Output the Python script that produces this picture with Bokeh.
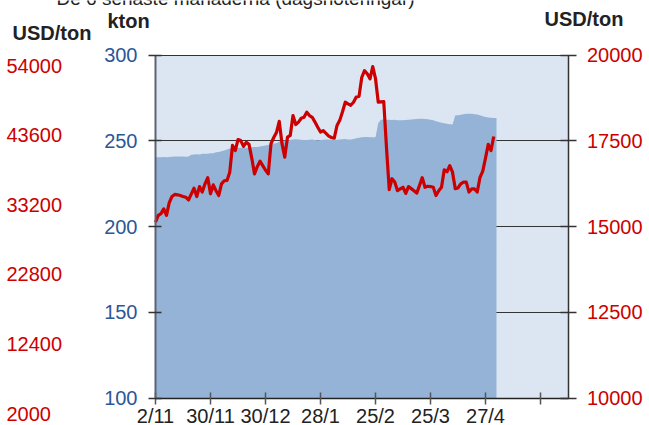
from bokeh.plotting import figure
from bokeh.models import Range1d, LinearAxis, FixedTicker, BoxAnnotation, Label
from bokeh.embed import file_html
from bokeh.resources import INLINE

# ---------------- data ----------------
title_text = "De 6 senaste månaderna (dagsnoteringar)"
x_tick_labels = ["2/11", "30/11", "30/12", "28/1", "25/2", "25/3", "27/4", ""]
days_per_tick = 20
kton_ticks = [100, 150, 200, 250, 300]
usd_ticks = [10000, 12500, 15000, 17500, 20000]
outer_ticks = [54000, 43600, 33200, 22800, 12400, 2000]

stock_kton = [
    240.5, 240.5, 240.5, 240.6, 240.5, 240.7,
    240.8, 241.0, 241.0, 241.0, 240.9, 240.8, 241.0,
    242.0, 242.1, 242.2, 242.1,
    242.5, 242.6, 242.6, 242.8, 242.9,
    243.4, 243.5, 244.0, 244.5, 245.0,
    245.6, 246.0, 246.0, 246.0, 246.1, 246.1, 246.0, 246.2, 246.3, 246.4, 246.5, 246.8, 247.0, 247.3, 247.6,
    248.3, 248.5, 248.6,
    249.7, 249.9, 250.2, 250.4, 250.6, 250.9, 251.0,
    250.8, 250.7, 250.6, 250.6, 250.7, 250.8, 250.5, 250.4, 250.5, 250.7, 250.8, 250.9, 250.8, 250.6,
    250.7, 250.9, 251.0, 251.1, 250.9, 250.8, 251.2, 251.6, 251.9,
    252.2, 252.3, 252.3, 252.2, 252.1, 252.2,
    260.5,
    262.3, 262.5, 262.4, 262.3, 262.2, 262.3, 262.1,
    262.0, 262.0, 262.2, 262.3, 262.5, 262.6, 262.8, 262.9,
    263.0, 262.8, 262.6, 262.4, 262.1,
    261.5, 261.0, 260.6, 260.3, 260.0, 259.8, 259.6,
    264.8,
    265.0, 265.3, 265.6, 265.8, 265.9, 265.8, 265.6, 265.4, 265.0,
    264.4, 264.0, 263.7, 263.5, 263.4, 263.4,
]

price_usd = [
    15130, 15330, 15380, 15520, 15330, 15700, 15880, 15940, 15930, 15910,
    15880, 15860, 15780, 15950, 16120, 15880, 16170, 16010, 16250, 16430,
    15960, 16220, 16050, 15910, 16250, 16340, 16350, 16590, 17370, 17220,
    17540, 17510, 17340, 17460, 17400, 17000, 16540, 16750, 16910, 16780,
    16650, 16540, 17420, 17600, 17750, 18070, 17420, 17030, 17610, 17660,
    18240, 17980, 18050, 18160, 18190, 18340, 18240, 18190, 18050, 17900,
    17760, 17800, 17720, 17640, 17600, 17580, 17950, 18100, 18350, 18630,
    18580, 18540, 18630, 18780, 18800, 19350, 19550, 19460, 19310, 19670,
    19320, 18630, 18640, 18650, 17300, 16080, 16400, 16300, 16050, 16100,
    16150, 15970, 16170, 16110, 16050, 15980, 16200, 16430, 16150, 16180,
    16170, 16150, 15910, 16050, 16150, 16660, 16600, 16780, 16590, 16110,
    16130, 16250, 16300, 16300, 16010, 16100, 16100, 16010, 16440, 16620,
    17000, 17400, 17220, 17630,
]

# ---------------- layout (frame = whole canvas, axes pinned) ----------------
W, H = 649, 425
X_SLOTS = 150
X0_PX, XEND_PX = 155.0, 567.5        # pixel columns of slot 0 and slot 150
Y300_PX, Y100_PX = 54.7, 397.7       # pixel rows of 300 and 100 kton
OUT_TOP_PX, OUT_BOT_PX = 65.0, 413.0  # pixel rows of first/last outer label

idx_per_px = X_SLOTS / (XEND_PX - X0_PX)
x_lo = -X0_PX * idx_per_px
x_hi = X_SLOTS + (W - XEND_PX) * idx_per_px

k_per_px = (kton_ticks[-1] - kton_ticks[0]) / (Y100_PX - Y300_PX)
k_hi = kton_ticks[-1] + Y300_PX * k_per_px
k_lo = kton_ticks[0] - (H - Y100_PX) * k_per_px

usd_per_k = (usd_ticks[-1] - usd_ticks[0]) / (kton_ticks[-1] - kton_ticks[0])
u_lo = usd_ticks[0] + (k_lo - kton_ticks[0]) * usd_per_k
u_hi = usd_ticks[-1] + (k_hi - kton_ticks[-1]) * usd_per_k

o_per_px = (outer_ticks[0] - outer_ticks[-1]) / (OUT_BOT_PX - OUT_TOP_PX)
o_hi = outer_ticks[0] + OUT_TOP_PX * o_per_px
o_lo = outer_ticks[-1] - (H - OUT_BOT_PX) * o_per_px


def px_x(px):
    return x_lo + px * idx_per_px


def px_k(py):
    return k_hi - py * k_per_px


FONT = "Liberation Sans"
RED = "#CC0000"
BLUE = "#2B5797"
DARK = "#333333"

p = figure(width=W, height=H, x_range=Range1d(x_lo, x_hi), y_range=Range1d(k_lo, k_hi),
           output_backend="svg", toolbar_location=None,
           min_border=0, min_border_left=0, min_border_right=0,
           min_border_top=0, min_border_bottom=0,
           outline_line_color=None, background_fill_color="white", border_fill_color="white")
p.extra_y_ranges = {"usd": Range1d(u_lo, u_hi), "outer": Range1d(o_lo, o_hi)}

# light plot-area background
p.add_layout(BoxAnnotation(left=0, right=X_SLOTS, bottom=kton_ticks[0], top=kton_ticks[-1],
                           fill_color="#DCE6F2", fill_alpha=1.0, line_color=None, level="image"))

# grid (horizontal lines across the plot area only)
p.xgrid.visible = False
yg = p.ygrid[0]
yg.ticker = FixedTicker(ticks=kton_ticks[1:])
yg.grid_line_color = DARK
yg.grid_line_width = 1.2
yg.cross_bounds = (0, X_SLOTS)

# stock area + price line
idx_area = list(range(len(stock_kton)))
idx_line = list(range(len(price_usd)))
p.varea(x=idx_area, y1=kton_ticks[0], y2=stock_kton, fill_color="#95B3D7", fill_alpha=1.0)
p.line(x=idx_line, y=price_usd, y_range_name="usd", line_color=RED, line_width=3.2,
       line_join="round")

# x axis
xa = p.xaxis[0]
tick_pos = [i * days_per_tick for i in range(len(x_tick_labels))]
xa.ticker = FixedTicker(ticks=tick_pos)
xa.major_label_overrides = {t: lab for t, lab in zip(tick_pos, x_tick_labels)}
xa.fixed_location = kton_ticks[0]
xa.bounds = (0, X_SLOTS)
xa.axis_line_color = "#222222"
xa.axis_line_width = 1.5
xa.major_tick_line_color = "#555555"
xa.major_tick_line_width = 1.5
xa.major_tick_in = 6
xa.major_tick_out = 6
xa.minor_tick_line_color = None
xa.major_label_standoff = 1
xa.major_label_text_font = FONT
xa.major_label_text_font_size = "20px"
xa.major_label_text_color = "#222222"

# inner left axis (kton)
ya = p.yaxis[0]
ya.ticker = FixedTicker(ticks=kton_ticks)
ya.fixed_location = 0
ya.bounds = (kton_ticks[0], kton_ticks[-1])
ya.axis_line_color = "#5A6475"
ya.axis_line_width = 2
ya.major_tick_line_color = DARK
ya.major_tick_line_width = 1.3
ya.major_tick_in = 6
ya.major_tick_out = 7
ya.minor_tick_line_color = None
ya.major_label_standoff = 11
ya.major_label_text_font = FONT
ya.major_label_text_font_size = "20px"
ya.major_label_text_color = BLUE

# right axis (USD/ton)
ra = LinearAxis(y_range_name="usd", ticker=FixedTicker(ticks=usd_ticks),
                bounds=(usd_ticks[0], usd_ticks[-1]), fixed_location=X_SLOTS)
ra.axis_line_color = DARK
ra.axis_line_width = 1.5
ra.major_tick_line_color = DARK
ra.major_tick_line_width = 1.3
ra.major_tick_in = 8
ra.major_tick_out = 8
ra.minor_tick_line_color = None
ra.major_label_standoff = 11
ra.major_label_text_font = FONT
ra.major_label_text_font_size = "20px"
ra.major_label_text_color = RED
p.add_layout(ra, "right")

# outer axis (USD/ton, labels only, left-aligned at the page edge)
oa = LinearAxis(y_range_name="outer", ticker=FixedTicker(ticks=outer_ticks),
                fixed_location=px_x(6.0))
oa.axis_line_color = None
oa.major_tick_line_color = None
oa.minor_tick_line_color = None
oa.major_tick_in = 0
oa.major_tick_out = 0
oa.major_label_standoff = 0
oa.major_label_text_font = FONT
oa.major_label_text_font_size = "20px"
oa.major_label_text_color = RED
p.add_layout(oa, "right")


# titles
def add_text(text, px, py, bold=False, size="20px", color="#222222"):
    p.add_layout(Label(x=px_x(px), y=px_k(py), text=text, text_font=FONT,
                       text_font_size=size, text_font_style="bold" if bold else "normal",
                       text_color=color, text_align="left", text_baseline="alphabetic"))


add_text(title_text, 56, -2, size="19px")
add_text("USD/ton", 12, 32.5, bold=True)
add_text("kton", 107, 20.5, bold=True)
add_text("USD/ton", 544, 18, bold=True)

open("out.html", "w").write(file_html(p, INLINE))
